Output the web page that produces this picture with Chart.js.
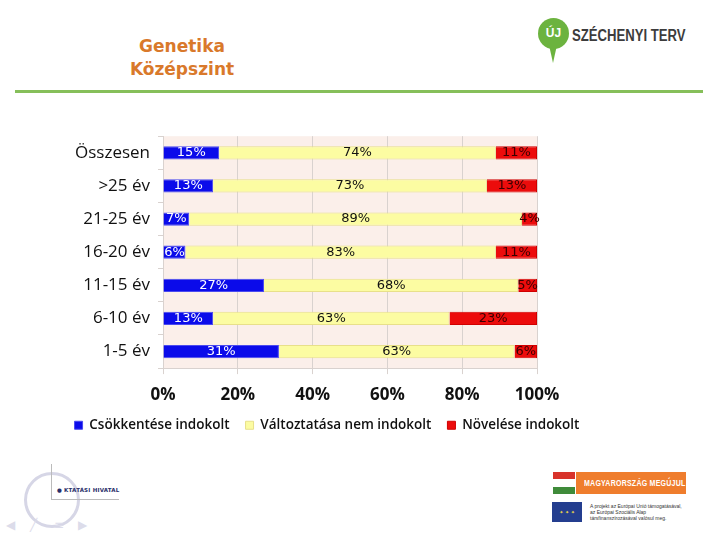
<!DOCTYPE html>
<html lang="hu">
<head>
  <meta charset="UTF-8">
  <title>Genetika Középszint</title>
  <script src="https://cdn.jsdelivr.net/npm/chart.js"></script>
  <style>
    body { margin: 0; width: 720px; height: 540px; background: #fff; position: relative; overflow: hidden; font-family: "DejaVu Sans", sans-serif; }
    .title { position: absolute; left: 92px; top: 35px; width: 180px; text-align: center; color: #d9792b; font-weight: bold; font-size: 17px; line-height: 23px; }
    .rule { position: absolute; left: 15px; top: 90px; width: 688px; height: 3px; background: #86bf5a; }
    #wrap { position: absolute; left: 20px; top: 118px; width: 614px; height: 324px; }
    /* Széchenyi Terv logo */
    .pin { position: absolute; left: 538px; top: 18px; width: 31px; height: 31px; border-radius: 50%; background: #6cb33f; color: #fff; font: bold 12px "Liberation Sans", sans-serif; text-align: center; line-height: 31px; }
    .pin:after { content: ""; position: absolute; left: 11px; top: 27px; border-left: 4.5px solid transparent; border-right: 4.5px solid transparent; border-top: 18px solid #6cb33f; }
    .szt { position: absolute; left: 572px; top: 27px; font: bold 16px "Liberation Sans", sans-serif; color: #3c3c3c; white-space: nowrap; transform: scaleX(0.82); transform-origin: left top; }
    /* Oktatási Hivatal */
    .oh-circle { position: absolute; left: 24px; top: 472px; width: 50px; height: 50px; border: 3px solid #d6d6e6; border-radius: 50%; }
    .oh-v { position: absolute; left: 51px; top: 464px; width: 1px; height: 36px; background: #bbb; }
    .oh-h { position: absolute; left: 51px; top: 499px; width: 68px; height: 1px; background: #bbb; }
    .oh-t { position: absolute; left: 57px; top: 487px; font: bold 5.5px "DejaVu Sans", sans-serif; color: #2a2f6a; letter-spacing: 0.2px; white-space: nowrap; }
    .nav { position: absolute; top: 518px; font: 12px "DejaVu Sans", sans-serif; color: #dcdcea; }
    /* MM / EU */
    .flag { position: absolute; left: 553px; top: 472px; width: 22px; height: 22px; background: linear-gradient(#d8332b 33%, #fff 33%, #fff 66%, #3f8b3a 66%); }
    .mm { position: absolute; left: 576px; top: 472px; width: 110px; height: 22px; background: #ef7d2d; }
    .mm span { position: absolute; left: 8px; top: 0; color: #fff; font: bold 9px "Liberation Sans", sans-serif; line-height: 22px; white-space: nowrap; transform: scaleX(0.78); transform-origin: left center; letter-spacing: 0.3px; }
    .eu { position: absolute; left: 552px; top: 502px; width: 30px; height: 20px; background: #243e8f; color: #e8d44a; font-size: 5px; text-align: center; line-height: 20px; }
    .eut { position: absolute; left: 590px; top: 503px; font: 5px "Liberation Sans", sans-serif; color: #333; line-height: 6px; white-space: nowrap; }
  </style>
</head>
<body>
  <div class="title">Genetika<br>Középszint</div>
  <div class="rule"></div>

  <div class="pin">ÚJ</div>
  <div class="szt">SZÉCHENYI TERV</div>

  <div id="wrap"><canvas id="chart"></canvas></div>

  <div class="oh-circle"></div>
  <div class="oh-v"></div>
  <div class="oh-h"></div>
  <div class="oh-t">● KTATÁSI HIVATAL</div>
  <div class="nav" style="left:6px">◀</div>
  <div class="nav" style="left:30px">╱</div>
  <div class="nav" style="left:54px">≡</div>
  <div class="nav" style="left:78px">▶</div>

  <div class="flag"></div>
  <div class="mm"><span>MAGYARORSZÁG MEGÚJUL</span></div>
  <div class="eu">✦ ✦ ✦</div>
  <div class="eut">A projekt az Európai Unió támogatásával,<br>az Európai Szociális Alap<br>társfinanszírozásával valósul meg.</div>

  <script>
    // categories top to bottom
    const categories = ['Összesen', '>25 év', '21-25 év', '16-20 év', '11-15 év', '6-10 év', '1-5 év'];
    // shares in percent
    const csokkentes = [15, 13.4, 7, 6, 27, 13.4, 31];
    const valtoztatas = [74, 73.2, 89, 83, 68, 63.2, 63];
    const noveles = [11, 13.4, 4, 11, 5, 23.4, 6];
    const seriesNames = ['Csökkentése indokolt', 'Változtatása nem indokolt', 'Növelése indokolt'];
    const xTicks = [0, 20, 40, 60, 80, 100];

    // pink plot background
    const plotBg = {
      id: 'plotBg',
      beforeDraw(chart) {
        const a = chart.chartArea, c = chart.ctx;
        c.save();
        c.fillStyle = '#fbefea';
        c.fillRect(a.left, a.top, a.right - a.left, a.bottom - a.top);
        c.restore();
      }
    };

    // percent labels in the middle of each segment
    const barLabels = {
      id: 'barLabels',
      afterDatasetsDraw(chart) {
        const c = chart.ctx;
        const colors = ['#ffffff', '#111111', '#3a0000'];
        c.save();
        c.font = '13px "DejaVu Sans", sans-serif';
        c.textAlign = 'center';
        c.textBaseline = 'middle';
        chart.data.datasets.forEach((ds, i) => {
          chart.getDatasetMeta(i).data.forEach((bar, j) => {
            const x = (bar.x + bar.base) / 2;
            c.fillStyle = colors[i];
            c.fillText(Math.round(ds.data[j]) + '%', x, bar.y);
          });
        });
        c.restore();
      }
    };

    const ctx = document.getElementById('chart').getContext('2d');
    const chart = new Chart(ctx, {
      type: 'bar',
      data: {
        labels: categories,
        datasets: [
          { label: seriesNames[0], data: csokkentes, backgroundColor: '#0b0bea', borderColor: '#4a4af0', borderWidth: 1 },
          { label: seriesNames[1], data: valtoztatas, backgroundColor: '#fcfca2', borderColor: '#e8e08a', borderWidth: 1 },
          { label: seriesNames[2], data: noveles, backgroundColor: '#ec0c0c', borderColor: '#d00000', borderWidth: 1 }
        ]
      },
      options: {
        indexAxis: 'y',
        responsive: true,
        maintainAspectRatio: false,
        animation: false,
        datasets: { bar: { barPercentage: 0.4, categoryPercentage: 1 } },
        layout: { padding: 0 },
        scales: {
          x: {
            stacked: true,
            min: 0,
            max: 100,
            afterBuildTicks(axis) { axis.ticks = xTicks.map(v => ({ value: v })); },
            afterFit(axis) { axis.paddingRight = 97; },
            grid: { color: '#d9d2cf', tickLength: 6 },
            border: { color: '#d9d2cf' },
            ticks: {
              color: '#111',
              font: { family: '"Open Sans", sans-serif', size: 17, weight: 'bold' },
              padding: 11,
              callback: v => v + '%'
            }
          },
          y: {
            stacked: true,
            afterFit(axis) { axis.width = 143; },
            grid: { drawOnChartArea: false, color: '#d9d2cf', tickLength: 5 },
            border: { color: '#d9d2cf' },
            ticks: {
              color: '#111',
              font: { family: '"Open Sans", sans-serif', size: 17 },
              padding: 8
            }
          }
        },
        plugins: {
          legend: {
            position: 'bottom',
            labels: {
              color: '#111',
              font: { family: '"Open Sans", sans-serif', size: 13.5, weight: '600' },
              boxWidth: 8,
              boxHeight: 8,
              padding: 2,
              useBorderRadius: false,
              // wider gaps between the items without extra vertical padding
              generateLabels(chart) {
                const items = Chart.defaults.plugins.legend.labels.generateLabels(chart);
                items.forEach((it, i) => {
                  if (i < items.length - 1) it.text += '\u00a0\u00a0\u00a0\u00a0';
                });
                return items;
              }
            }
          },
          tooltip: { enabled: false }
        }
      },
      plugins: [plotBg, barLabels]
    });
  </script>
</body>
</html>
